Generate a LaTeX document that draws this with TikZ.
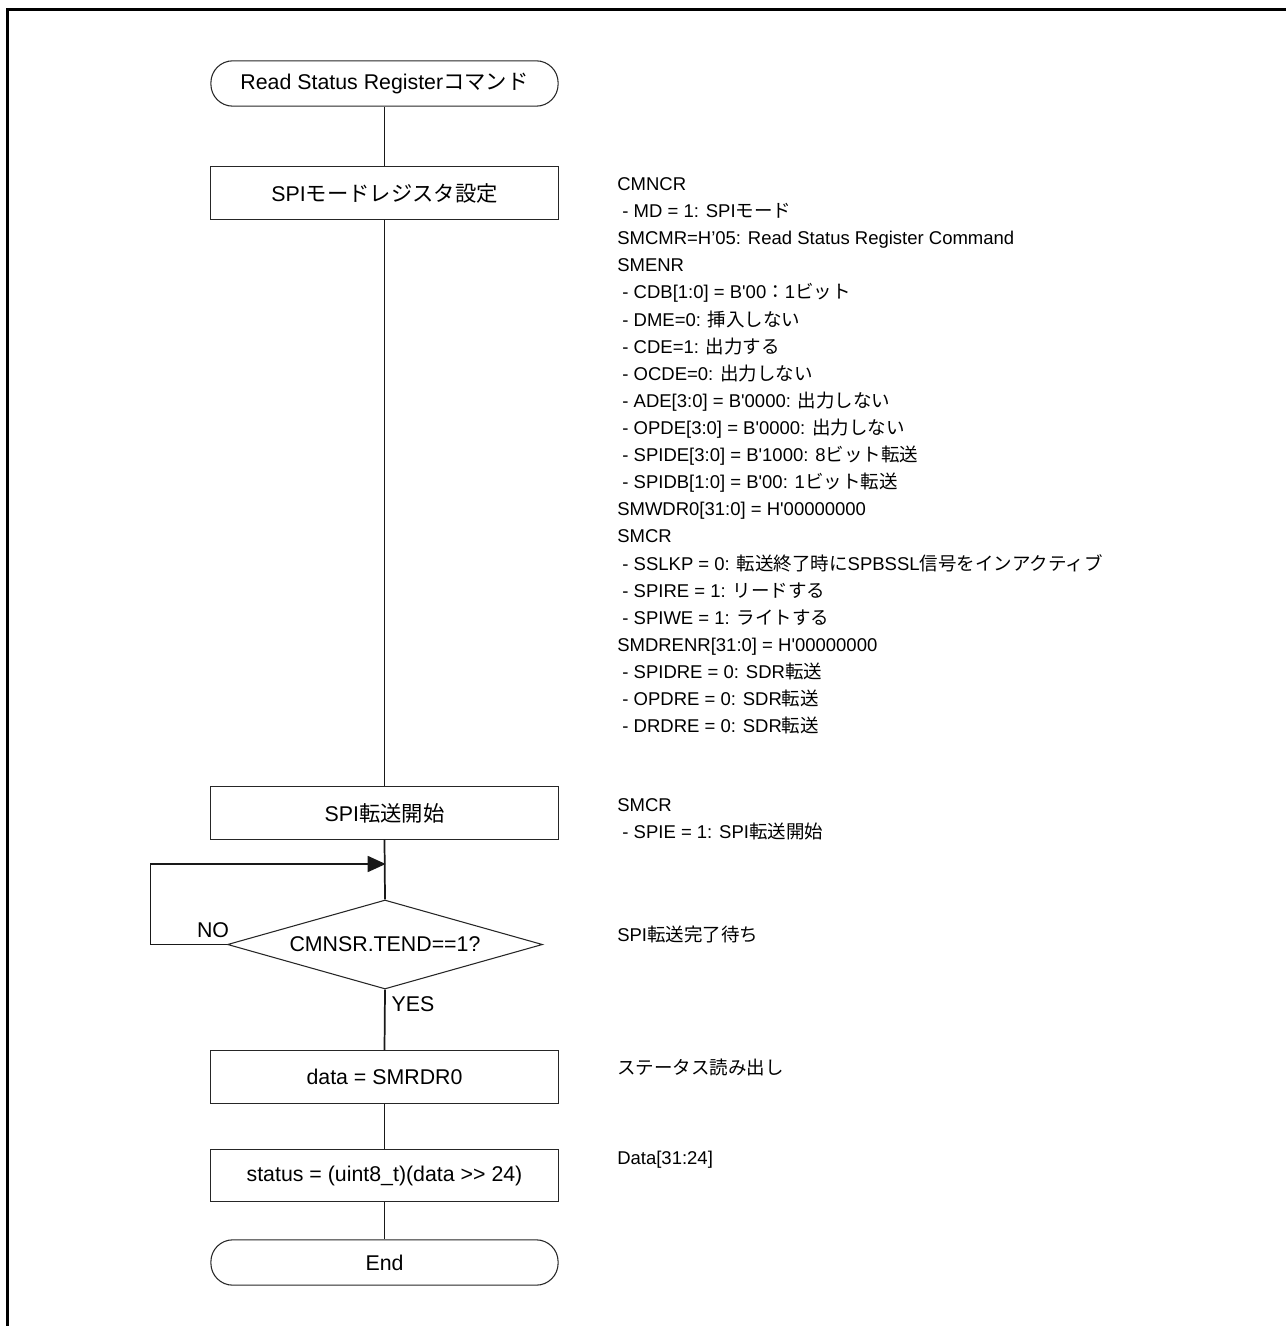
\documentclass[tikz,border=0pt]{standalone}
\usepackage{fontspec}
\newfontfamily\arial{Liberation Sans}
\newfontfamily\jp{Noto Sans CJK JP}
\usetikzlibrary{shapes.geometric,arrows.meta}
\begin{document}
\begin{tikzpicture}[x=0.75pt,y=-0.75pt,
  boxtext/.style={font=\arial\fontsize{16pt}{19pt}\selectfont},
  annot/.style={font=\arial\fontsize{13.875pt}{18pt}\selectfont, anchor=base west, inner sep=0pt},
  procbox/.style={boxtext, draw=black!85, line width=0.8pt, minimum width=260.4pt, minimum height=39.2pt, inner sep=0pt},
  termbox/.style={procbox, rounded corners=16.4pt, minimum height=34pt},
  decbox/.style={boxtext, draw=black!85, line width=0.8pt, shape=diamond, aspect=3.54, minimum width=236.25pt, minimum height=66.75pt, inner sep=0pt},
  conn/.style={line width=1.3pt, black!90},
  lbl/.style={boxtext, inner sep=0pt}
]
\useasboundingbox (0,0) rectangle (1285,1326);
% frame (top and left edges)
\draw[line width=2.25pt] (7.5,1330) -- (7.5,9.5) -- (1290,9.5);

% flow nodes
\node[termbox] (start) at (384.5,83.5) {Read Status Register{\jp コマンド}};
\node[procbox] (b1) at (384.5,193) {SPI{\jp モードレジスタ設定}};
\node[procbox] (b2) at (384.5,813) {SPI{\jp 転送開始}};
\node[decbox] (dia) at (385,944.5) {CMNSR.TEND==1?};
\node[procbox] (b3) at (384.5,1077) {data = SMRDR0};
\node[procbox] (b4) at (384.5,1175.5) {status = (uint8\_t)(data >{}> 24)};
\node[termbox] (end) at (384.5,1262.5) {End};

\coordinate (j) at (385,864);
\coordinate (lb) at (150.5,944.5);
\coordinate (lt) at (150.5,864);

% connectors
\draw[conn] (start.south) -- (b1.north);
\draw[conn] (b1.south) -- (b2.north);
\draw[conn] (b2.south) -- (dia.north);
\draw[conn] (dia.west) -- (lb) -- (lt) -- (j);
\draw[conn, -{Triangle[length=13.5pt,width=12pt]}, shorten >=-0.5pt] (lt) -- (j);
\draw[conn] (dia.south) -- (b3.north);
\draw[conn] (b3.south) -- (b4.north);
\draw[conn] (b4.south) -- (end.north);

\node[lbl] (no) at (213,930) {NO};
\node[lbl] (yes) at (413,1004) {YES};

% annotations
\foreach \t [count=\i] in {
  {CMNCR},
  {\ - MD = 1: SPI{\jp モード}},
  {SMCMR=H’05: Read Status Register Command},
  {SMENR},
  {\ - CDB[1:0] = B'00{\jp ：}1{\jp ビット}},
  {\ - DME=0: {\jp 挿入しない}},
  {\ - CDE=1: {\jp 出力する}},
  {\ - OCDE=0: {\jp 出力しない}},
  {\ - ADE[3:0] = B'0000: {\jp 出力しない}},
  {\ - OPDE[3:0] = B'0000: {\jp 出力しない}},
  {\ - SPIDE[3:0] = B'1000: 8{\jp ビット転送}},
  {\ - SPIDB[1:0] = B'00: 1{\jp ビット転送}},
  {SMWDR0[31:0] = H'00000000},
  {SMCR},
  {\ - SSLKP = 0: {\jp 転送終了時に}SPBSSL{\jp 信号をインアクティブ}},
  {\ - SPIRE = 1: {\jp リードする}},
  {\ - SPIWE = 1: {\jp ライトする}},
  {SMDRENR[31:0] = H'00000000},
  {\ - SPIDRE = 0: SDR{\jp 転送}},
  {\ - OPDRE = 0: SDR{\jp 転送}},
  {\ - DRDRE = 0: SDR{\jp 転送}}
}{
  \node[annot] (a\i) at (617,{190.6+(\i-1)*27.1}) {\t};
}
\node[annot] (c1) at (617,811.6) {SMCR};
\node[annot] (c2) at (617,838.3) {\ - SPIE = 1: SPI{\jp 転送開始}};
\node[annot] (d1) at (617,941.6) {SPI{\jp 転送完了待ち}};
\node[annot] (e1) at (617,1074.6) {{\jp ステータス読み出し}};
\node[annot] (f1) at (617,1164) {Data[31:24]};
\end{tikzpicture}
\end{document}
